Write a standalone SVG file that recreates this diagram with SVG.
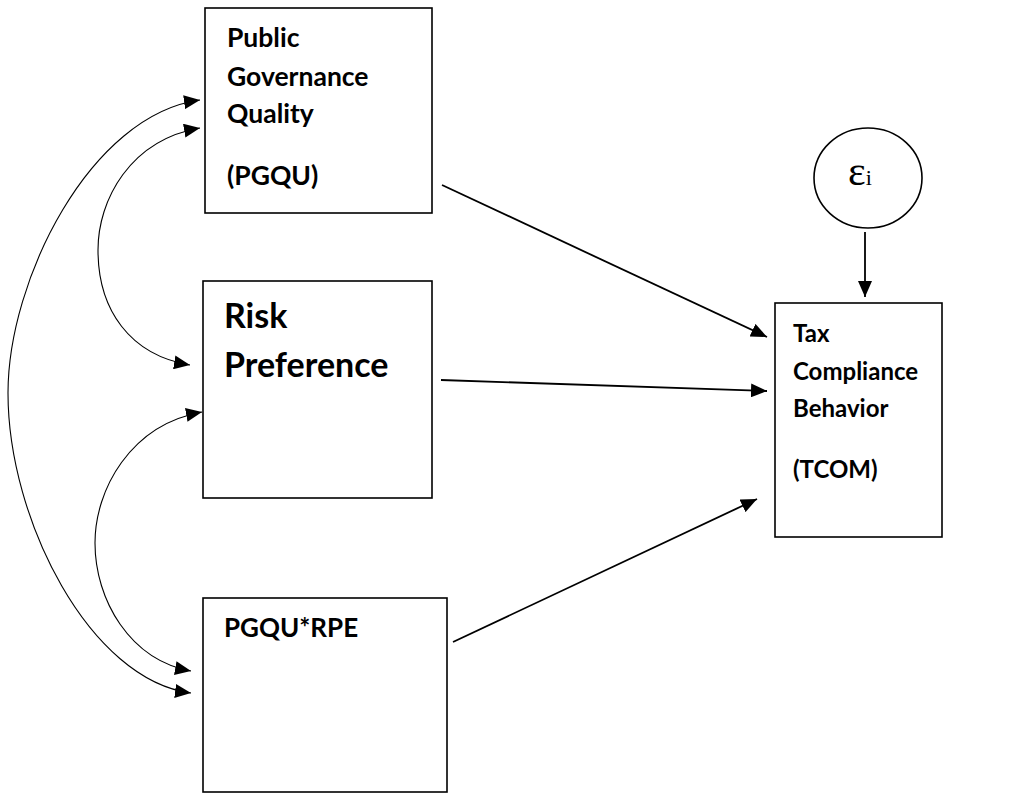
<svg xmlns="http://www.w3.org/2000/svg" width="1017" height="794" viewBox="0 0 1017 794">
<style>
.box{fill:#fff;stroke:#000;stroke-width:1.6}
.t{font-family:Lato,"Liberation Sans",sans-serif;font-weight:bold;font-size:26.5px;fill:#000}
.big{font-size:34px}
.m{font-size:26px}
.s{font-size:24px}
.ln{fill:none;stroke:#000;stroke-width:1.8}
.cv{fill:none;stroke:#000;stroke-width:1.1}
</style>
<defs>
<marker id="ah" markerUnits="userSpaceOnUse" markerWidth="17" markerHeight="14" refX="16" refY="7" orient="auto-start-reverse">
<path d="M0,0 L16,7 L0,14 Z" fill="#000"/>
</marker>
</defs>
<g id="connectors">
<path class="cv" d="M 200,100 C 90,115 8,280 8,393 C 8,520 90,680 191,693" marker-start="url(#ah)" marker-end="url(#ah)"/>
<path class="cv" d="M 200,128 C 130,140 98,200 98,250 C 98,310 130,355 190,365" marker-start="url(#ah)" marker-end="url(#ah)"/>
<path class="cv" d="M 202,412 C 130,425 95,490 95,543 C 95,600 130,660 191,671" marker-start="url(#ah)" marker-end="url(#ah)"/>
<line class="ln" x1="442" y1="185" x2="767" y2="337" marker-end="url(#ah)"/>
<line class="ln" x1="441" y1="380" x2="767" y2="391" marker-end="url(#ah)"/>
<line class="ln" x1="453" y1="642" x2="757" y2="499" marker-end="url(#ah)"/>
<line class="ln" x1="865" y1="232" x2="865" y2="297" marker-end="url(#ah)"/>
</g>
<g id="pgqu">
<rect class="box" x="205" y="8" width="227" height="205"/>
<text class="t" x="227" y="47">Public</text>
<text class="t" x="227" y="86">Governance</text>
<text class="t" x="227" y="123">Quality</text>
<text class="t" x="227" y="185">(PGQU)</text>
</g>
<g id="rpe">
<rect class="box" x="203" y="281" width="229" height="217"/>
<text class="t big" x="224" y="328">Risk</text>
<text class="t big" x="224" y="377">Preference</text>
</g>
<g id="pgqu_rpe">
<rect class="box" x="203" y="598" width="244" height="194"/>
<text class="t m" x="224" y="637">PGQU*RPE</text>
</g>
<g id="tcom">
<rect class="box" x="775" y="303" width="167" height="234"/>
<text class="t s" x="793" y="342">Tax</text>
<text class="t s" x="793" y="380">Compliance</text>
<text class="t s" x="793" y="417">Behavior</text>
<text class="t s" x="793" y="478">(TCOM)</text>
</g>
<g id="error">
<ellipse cx="868" cy="178" rx="54" ry="50" fill="#fff" stroke="#000" stroke-width="1.6"/>
<text x="848" y="185" font-family="'Liberation Serif',serif" font-size="42" fill="#000">ε<tspan font-size="22">i</tspan></text>
</g>
</svg>
